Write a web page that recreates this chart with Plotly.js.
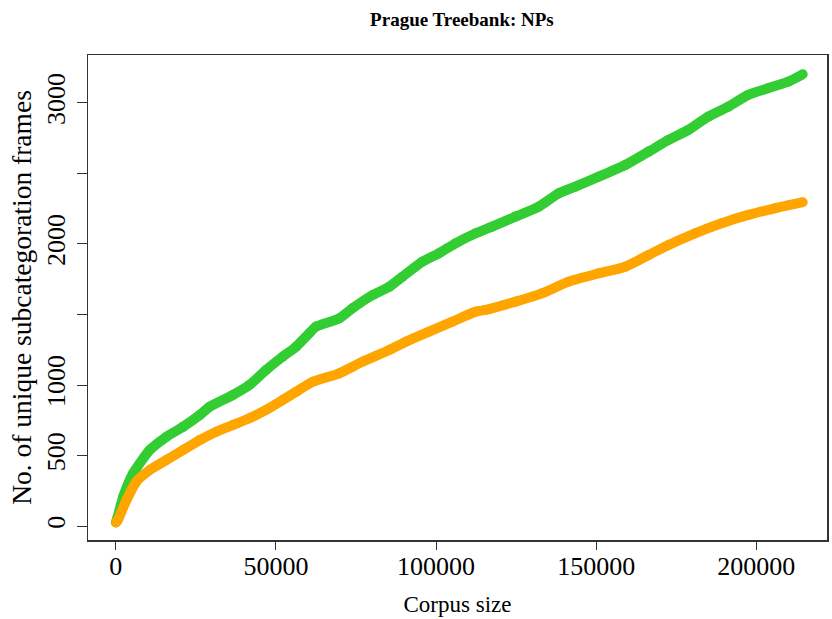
<!DOCTYPE html>
<html>
<head>
<meta charset="utf-8">
<script src="https://cdn.plot.ly/plotly-3.0.1.min.js"></script>
<style>html,body{margin:0;padding:0;background:#fff;}#chart{width:832px;height:619px;}</style>
</head>
<body>
<div id="chart"></div>
<script>
// Corpus size (x) and number of unique subcategorisation frames (y)
const greenX = [0, 500, 2300, 5400, 10600, 15800, 21000, 26200, 29300, 36500, 41700, 46900, 52100, 56300, 60400, 62500, 69800, 73900, 80200, 85400, 89500, 95700, 100900, 106100, 112400, 117500, 124800, 132100, 138300, 143500, 150800, 159100, 166400, 172600, 178800, 185000, 191300, 197500, 203700, 210000, 214500];
const greenY = [25, 60, 208, 374, 539, 633, 704, 787, 846, 929, 1000, 1106, 1201, 1272, 1367, 1414, 1473, 1544, 1638, 1697, 1768, 1874, 1934, 2005, 2076, 2123, 2194, 2265, 2359, 2406, 2477, 2560, 2655, 2738, 2809, 2903, 2974, 3057, 3104, 3151, 3203];
const orangeX = [0, 600, 3300, 6400, 10600, 15800, 21000, 26200, 31400, 36500, 41700, 46900, 52100, 56300, 61500, 69800, 77000, 85400, 90600, 97800, 105100, 112400, 115500, 124800, 133100, 141400, 150800, 159100, 166400, 172600, 180900, 189200, 197500, 205800, 214500];
const orangeY = [25, 42, 184, 314, 397, 468, 539, 610, 669, 716, 764, 823, 894, 952, 1023, 1083, 1165, 1248, 1307, 1378, 1449, 1520, 1532, 1591, 1650, 1733, 1792, 1839, 1922, 1993, 2076, 2147, 2206, 2253, 2296];
const yTickVals = [0, 500, 1000, 1500, 2000, 2500, 3000];
const yTickText = ['0', '500', '1000', '', '2000', '', '3000'];
const xTickVals = [0, 50000, 100000, 150000, 200000];
const xTickText = ['0', '50000', '100000', '150000', '200000'];

const serif = '"Liberation Serif", "Times New Roman", serif';
const xRange = [-8700, 222100];
const traces = [
  {x: greenX, y: greenY, type: 'scatter', mode: 'lines+markers',
   line: {color: '#32CD32', width: 10, shape: 'spline', smoothing: 0.6},
   marker: {color: '#32CD32', size: 10}, hoverinfo: 'skip'},
  {x: orangeX, y: orangeY, type: 'scatter', mode: 'lines+markers',
   line: {color: '#FFA500', width: 10, shape: 'spline', smoothing: 0.6},
   marker: {color: '#FFA500', size: 10}, hoverinfo: 'skip'},
  // invisible trace so the tick-mark axis is drawn
  {x: xRange, y: [null, null], xaxis: 'x2', yaxis: 'y', type: 'scatter', mode: 'markers',
   marker: {opacity: 0}, hoverinfo: 'skip'}
];
const layout = {
  width: 832, height: 619,
  margin: {l: 88, r: 3, t: 55, b: 79},
  paper_bgcolor: '#fff', plot_bgcolor: '#fff',
  showlegend: false,
  font: {family: serif, color: '#000'},
  title: {text: '<b>Prague Treebank: NPs</b>', font: {family: serif, size: 19, color: '#000'},
          x: 0.506, xanchor: 'center', y: 0.968, yanchor: 'middle', xref: 'paper'},
  xaxis: {range: xRange, showgrid: false, zeroline: false, automargin: true,
          showline: true, mirror: true, linecolor: '#333', linewidth: 1.5,
          ticks: '', ticklabelstandoff: 2,
          tickvals: xTickVals, ticktext: xTickText, tickfont: {family: serif, size: 26},
          title: {text: 'Corpus size', font: {family: serif, size: 23}, standoff: 16}},
  xaxis2: {range: xRange, overlaying: 'x', anchor: 'y', side: 'bottom', showgrid: false, zeroline: false,
           showline: false, ticks: 'outside', ticklen: 9, tickcolor: '#333', tickwidth: 1,
           tickvals: xTickVals, showticklabels: false},
  yaxis: {range: [-99, 3340], showgrid: false, zeroline: false, automargin: true,
          showline: true, mirror: true, linecolor: '#333', linewidth: 1.5,
          ticks: 'outside', ticklen: 10, tickcolor: '#333', tickwidth: 1,
          ticklabelstandoff: 1,
          tickvals: yTickVals, ticktext: yTickText, tickangle: -90,
          tickfont: {family: serif, size: 26},
          title: {text: 'No. of unique subcategoration frames', font: {family: serif, size: 27.5}, standoff: 2}}
};
Plotly.newPlot('chart', traces, layout, {displayModeBar: false, staticPlot: true});
</script>
</body>
</html>
